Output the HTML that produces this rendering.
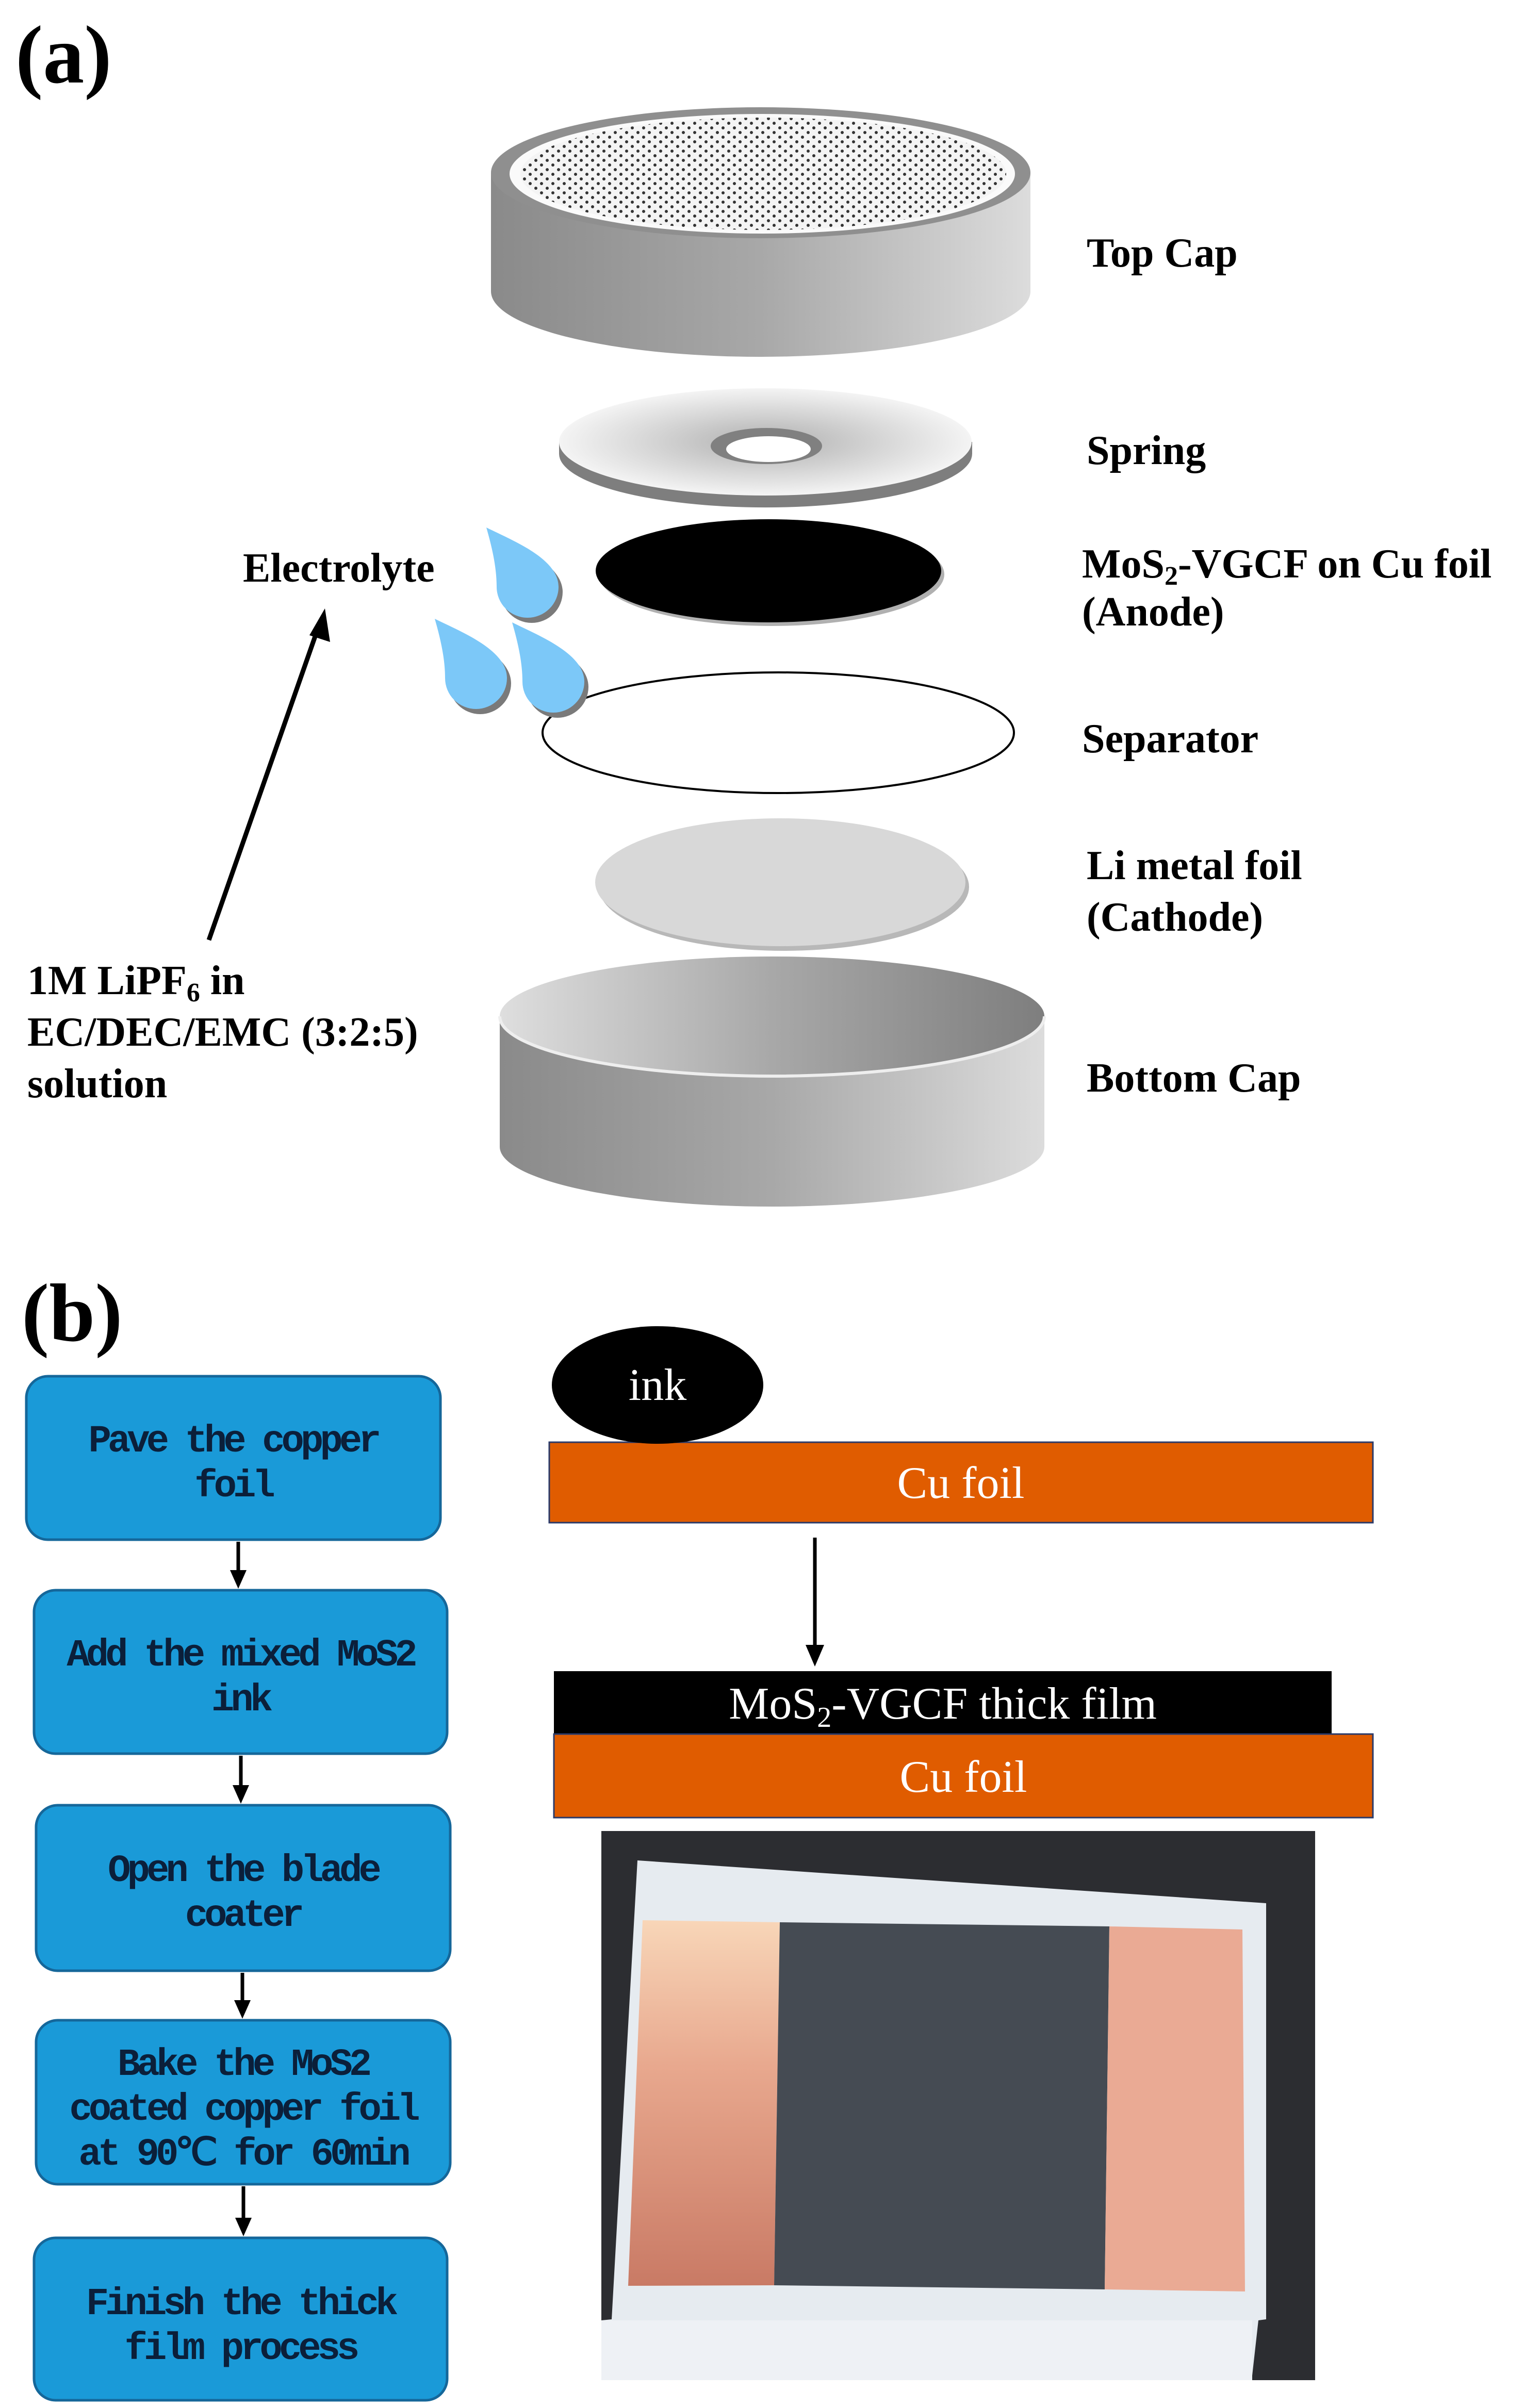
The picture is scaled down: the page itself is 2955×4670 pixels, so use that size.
<!DOCTYPE html>
<html><head><meta charset="utf-8"><style>
html,body{margin:0;padding:0;background:#fff}
svg{display:block}
.lb{font-family:"Liberation Serif",serif;font-weight:bold;font-size:80px;fill:#000}
.bx{font-family:"Liberation Mono",monospace;font-weight:bold;font-size:74px;fill:#0b1f3a;letter-spacing:-7px}
.wt{font-family:"Liberation Serif",serif;font-size:88px;fill:#fff}
</style></head><body>
<svg width="2955" height="4670" viewBox="0 0 2955 4670" xmlns="http://www.w3.org/2000/svg">
<defs>
<linearGradient id="side" x1="0" x2="1" y1="0" y2="0">
<stop offset="0" stop-color="#8a8a8a"/><stop offset="0.5" stop-color="#a8a8a8"/><stop offset="1" stop-color="#dcdcdc"/></linearGradient>
<linearGradient id="inner" x1="0" x2="1" y1="0" y2="0">
<stop offset="0" stop-color="#dedede"/><stop offset="0.5" stop-color="#a8a8a8"/><stop offset="1" stop-color="#7e7e7e"/></linearGradient>
<radialGradient id="spr" cx="0.5" cy="0.5" r="0.5">
<stop offset="0.2" stop-color="#bdbdbd"/><stop offset="1" stop-color="#f4f4f4"/></radialGradient>
<pattern id="dots" width="22" height="18" patternUnits="userSpaceOnUse">
<rect width="22" height="18" fill="#f4f4f4"/><circle cx="5" cy="5" r="3" fill="#333"/><circle cx="16" cy="14" r="3" fill="#333"/></pattern>
<linearGradient id="cu" x1="0" x2="0" y1="0" y2="1"><stop offset="0" stop-color="#f8d6b8"/><stop offset="0.4" stop-color="#e8a88e"/><stop offset="1" stop-color="#c97a65"/></linearGradient>
<path id="drop" d="M0,0 C50,25 140,60 140,115 A60,60 0 1 1 20,115 C20,75 10,35 0,0 Z"/>
</defs>

<text x="30" y="160" font-family="Liberation Serif,serif" font-weight="bold" font-size="160">(a)</text>

<!-- Top cap -->
<path d="M952,335 L952,565 A523,127 0 0 0 1998,565 L1998,335 Z" fill="url(#side)"/>
<ellipse cx="1475" cy="335" rx="523" ry="127" fill="#8f8f8f"/>
<ellipse cx="1478" cy="337" rx="490" ry="116" fill="#fafafa"/>
<ellipse cx="1480" cy="337" rx="471" ry="109" fill="url(#dots)"/>

<!-- Spring -->
<path d="M1084,857 L1084,880 A400,104 0 0 0 1885,880 L1885,857 Z" fill="#7e7e7e"/>
<ellipse cx="1484" cy="857" rx="400" ry="104" fill="url(#spr)"/>
<ellipse cx="1486" cy="865" rx="108" ry="35" fill="#808080"/>
<ellipse cx="1490" cy="871" rx="82" ry="25" fill="#fff"/>

<!-- Anode -->
<ellipse cx="1496" cy="1114" rx="335" ry="100" fill="#b0b0b0"/>
<ellipse cx="1490" cy="1107" rx="335" ry="100" fill="#000"/>

<!-- Separator -->
<ellipse cx="1509" cy="1421" rx="457" ry="117" fill="#fff" stroke="#000" stroke-width="4"/>

<!-- Drops -->
<g fill="#7a7a7a">
<use href="#drop" transform="translate(951,1033)"/>
<use href="#drop" transform="translate(851,1210)"/>
<use href="#drop" transform="translate(1001,1217)"/>
</g>
<g fill="#7cc8f8">
<use href="#drop" transform="translate(943,1023)"/>
<use href="#drop" transform="translate(843,1200)"/>
<use href="#drop" transform="translate(993,1207)"/>
</g>

<!-- Li foil -->
<ellipse cx="1520" cy="1720" rx="359" ry="124" fill="#b8b8b8"/>
<ellipse cx="1513" cy="1711" rx="359" ry="124" fill="#d8d8d8"/>

<!-- Bottom cap -->
<path d="M969,1971 L969,2224 A528,116 0 0 0 2025,2224 L2025,1971 Z" fill="url(#side)"/>
<ellipse cx="1497" cy="1971" rx="528" ry="116" fill="url(#inner)"/>
<path d="M969,1971 A528,116 0 0 0 2025,1971" fill="none" stroke="#eee" stroke-width="6"/>

<!-- Labels a -->
<text class="lb" x="2107" y="517">Top Cap</text>
<text class="lb" x="2107" y="900">Spring</text>
<text class="lb" x="2098" y="1120">MoS<tspan font-size="52" dy="14">2</tspan><tspan dy="-14">-VGCF on Cu foil</tspan></text>
<text class="lb" x="2098" y="1213">(Anode)</text>
<text class="lb" x="2098" y="1459">Separator</text>
<text class="lb" x="2107" y="1705">Li metal foil</text>
<text class="lb" x="2107" y="1805">(Cathode)</text>
<text class="lb" x="2107" y="2117">Bottom Cap</text>
<text class="lb" x="471" y="1128">Electrolyte</text>
<text class="lb" x="53" y="1928">1M LiPF<tspan font-size="52" dy="14">6</tspan><tspan dy="-14"> in</tspan></text>
<text class="lb" x="53" y="2028">EC/DEC/EMC (3:2:5)</text>
<text class="lb" x="53" y="2128">solution</text>
<line x1="405" y1="1823" x2="616" y2="1220" stroke="#000" stroke-width="9"/>
<path d="M630,1180 L640,1245 L600,1232 Z" fill="#000"/>

<!-- (b) -->
<text x="42" y="2600" font-family="Liberation Serif,serif" font-weight="bold" font-size="160">(b)</text>

<g fill="#1a9ad8" stroke="#15679a" stroke-width="5">
<rect x="51" y="2669" width="803" height="317" rx="42"/>
<rect x="66" y="3084" width="801" height="317" rx="42"/>
<rect x="70" y="3501" width="803" height="321" rx="42"/>
<rect x="70" y="3918" width="803" height="318" rx="42"/>
<rect x="66" y="4340" width="801" height="315" rx="42"/>
</g>
<g stroke="#000" stroke-width="7">
<line x1="462" y1="2990" x2="462" y2="3050"/>
<line x1="467" y1="3405" x2="467" y2="3467"/>
<line x1="470" y1="3826" x2="470" y2="3884"/>
<line x1="472" y1="4240" x2="472" y2="4306"/>
</g>
<g fill="#000">
<path d="M446,3045 L478,3045 L462,3081 Z"/>
<path d="M451,3462 L483,3462 L467,3498 Z"/>
<path d="M454,3879 L486,3879 L470,3915 Z"/>
<path d="M456,4301 L488,4301 L472,4337 Z"/>
</g>
<g text-anchor="middle">
<text class="bx" x="452" y="2815">Pave the copper</text>
<text class="bx" x="452" y="2902">foil</text>
<text class="bx" x="466" y="3230">Add the mixed MoS2</text>
<text class="bx" x="466" y="3317">ink</text>
<text class="bx" x="471" y="3648">Open the blade</text>
<text class="bx" x="471" y="3735">coater</text>
<text class="bx" x="471" y="4024">Bake the MoS2</text>
<text class="bx" x="471" y="4111">coated copper foil</text>
<text class="bx" x="471" y="4198">at 90℃ for 60min</text>
<text class="bx" x="466" y="4488">Finish the thick</text>
<text class="bx" x="466" y="4575">film process</text>
</g>

<!-- ink & foils -->
<rect x="1065" y="2797" width="1597" height="156" fill="#e05c00" stroke="#2a3a6a" stroke-width="3"/>
<ellipse cx="1275" cy="2686" rx="205" ry="114" fill="#000"/>
<text class="wt" x="1275" y="2715" text-anchor="middle">ink</text>
<text class="wt" x="1863" y="2905" text-anchor="middle">Cu foil</text>
<line x1="1580" y1="2982" x2="1580" y2="3195" stroke="#000" stroke-width="7"/>
<path d="M1562,3190 L1598,3190 L1580,3232 Z" fill="#000"/>
<rect x="1074" y="3241" width="1508" height="122" fill="#000"/>
<text class="wt" x="1828" y="3333" text-anchor="middle">MoS<tspan font-size="56" dy="16">2</tspan><tspan dy="-16">-VGCF thick film</tspan></text>
<rect x="1074" y="3363" width="1588" height="162" fill="#e05c00" stroke="#2a3a6a" stroke-width="3"/>
<text class="wt" x="1868" y="3475" text-anchor="middle">Cu foil</text>

<!-- photo -->
<rect x="1166" y="3551" width="1384" height="1065" fill="#2c2d31"/>
<path d="M1236,3608 L2455,3691 L2455,4498 L2440,4500 L2427,4616 L1166,4616 L1166,4500 L1186,4498 Z" fill="#e6ebf0"/>
<rect x="1166" y="4500" width="1262" height="116" fill="#eef1f5"/>
<path d="M1246,3724 L1512,3728 L1501,4432 L1218,4433 Z" fill="url(#cu)"/>
<path d="M1512,3728 L2151,3736 L2142,4440 L1501,4432 Z" fill="#454b53"/>
<path d="M2151,3736 L2409,3742 L2414,4444 L2142,4440 Z" fill="#eaaa94"/>
</svg>
</body></html>
